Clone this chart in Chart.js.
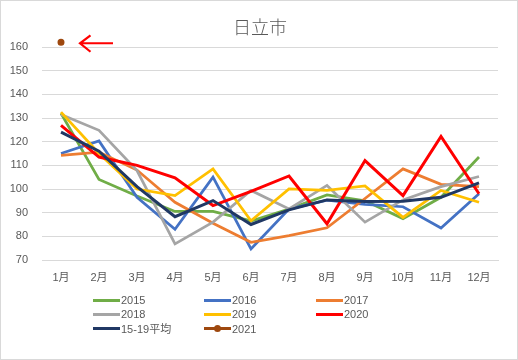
<!DOCTYPE html>
<html><head><meta charset="utf-8">
<script src="https://cdn.jsdelivr.net/npm/chart.js@4/dist/chart.umd.min.js"></script>
<style>
html,body{margin:0;padding:0;background:#fff;}
#wrap{position:relative;width:518px;height:360px;box-sizing:border-box;border:1px solid #d9d9d9;background:#fff;overflow:hidden;}
#c{position:absolute;left:0;top:0;}
#title{position:absolute;left:0;width:518px;top:13px;text-align:center;font:18px "Noto Sans CJK JP",sans-serif;font-weight:300;color:#595959;line-height:24px;}
#legend{position:absolute;left:0;top:0;width:518px;height:360px;pointer-events:none;}
.li{position:absolute;font:11px "Liberation Sans","Noto Sans CJK JP",sans-serif;color:#595959;line-height:14px;white-space:nowrap;}
.sw{position:absolute;height:3px;width:27px;}
.dot{position:absolute;width:7px;height:7px;border-radius:50%;}
</style></head>
<body>
<div id="wrap">
<canvas id="c" width="518" height="360"></canvas>
<div id="title">日立市</div>
<div id="legend"></div>
</div>
<script>
const months = ['1月','2月','3月','4月','5月','6月','7月','8月','9月','10月','11月','12月'];
const seriesNames = ['2015','2016','2017','2018','2019','2020','15-19平均','2021'];
const s2015 = [132, 104, 97, 90.5, 90.5, 86.5, 91.5, 97.5, 95, 87.5, 96.5, 113.5];
const s2016 = [115, 120.3, 96.5, 83, 105, 74.7, 91.5, 95.3, 93.5, 92.5, 83.5, 98];
const s2017 = [114.2, 115.6, 108, 94.4, 85.5, 77.5, 80.3, 83.6, 96, 108.5, 102, 101];
const s2018 = [131.5, 124.8, 107.8, 76.8, 86, 99.4, 91.6, 101.5, 86, 95.4, 101, 105.3];
const s2019 = [132.5, 115, 100, 97.2, 108.5, 86.6, 100, 99.4, 101.3, 88, 99.4, 94.4];
const s2020 = [126.9, 113.5, 110, 104.7, 93, 99, 105.5, 85.3, 112, 97.2, 122.2, 98];
const avg1519 = [124, 116, 101, 88.3, 95.1, 85, 91.2, 95.4, 94.7, 94.8, 96.5, 102.6];
const s2021 = [162, null, null, null, null, null, null, null, null, null, null, null];
const yTicks = [70, 80, 90, 100, 110, 120, 130, 140, 150, 160];

const colors = ['#70AD47','#4472C4','#ED7D31','#A5A5A5','#FFC000','#FF0000','#203864','#9E480E'];
const values = [s2015, s2016, s2017, s2018, s2019, s2020, avg1519, s2021];

const datasets = values.map((v, i) => ({
  label: seriesNames[i],
  data: v,
  borderColor: colors[i],
  backgroundColor: colors[i],
  borderWidth: i === 5 || i === 6 ? 3 : 2.75,
  pointRadius: i === 7 ? 1.5 : 0,
  pointBorderWidth: 4,
  pointHoverRadius: i === 7 ? 1.5 : 0,
  tension: 0,
  fill: false,
  clip: i === 7 ? false : undefined,
  order: 10 - i
}));

const arrowPlugin = {
  id: 'arrow',
  afterDatasetsDraw(chart) {
    const meta = chart.getDatasetMeta(7);
    const p = meta.data[0];
    if (!p) return;
    const ctx = chart.ctx;
    const x0 = p.x + 19, y0 = p.y + 1;
    ctx.save();
    ctx.strokeStyle = '#FF0000';
    ctx.lineWidth = 2.2;
    ctx.lineCap = 'butt';
    ctx.beginPath();
    ctx.moveTo(x0, y0); ctx.lineTo(x0 + 33, y0);
    ctx.moveTo(x0 + 10.5, y0 - 8); ctx.lineTo(x0, y0); ctx.lineTo(x0 + 10.5, y0 + 8.5);
    ctx.stroke();
    ctx.restore();
  }
};

const tickFont = {family: '"Liberation Sans","Noto Sans CJK JP",sans-serif', size: 11};
new Chart(document.getElementById('c'), {
  type: 'line',
  data: {labels: months, datasets},
  options: {
    responsive: false,
    animation: false,
    layout: {padding: {left: 0, right: 21, top: 46, bottom: 0}},
    plugins: {legend: {display: false}, title: {display: false}, tooltip: {enabled: false}},
    scales: {
      x: {
        offset: true,
        grid: {display: false, drawTicks: false},
        border: {display: true, color: '#D9D9D9', width: 1},
        ticks: {color: '#595959', font: tickFont, padding: 11, maxRotation: 0, autoSkip: false},
        afterFit(s) { s.height = 101; }
      },
      y: {
        min: 70, max: 160,
        afterBuildTicks(s) { s.ticks = yTicks.map(v => ({value: v})); },
        grid: {color: '#D9D9D9', lineWidth: 1, drawTicks: false},
        border: {display: false},
        ticks: {color: '#595959', font: tickFont, padding: 14},
        afterFit(s) { s.width = 41; }
      }
    }
  },
  plugins: [arrowPlugin]
});

// HTML legend in a 3-column grid
const legend = document.getElementById('legend');
const colX = [92, 203, 315];
const rowY = [299, 313, 327.5];
seriesNames.forEach((name, i) => {
  const cx = colX[i % 3], cy = rowY[Math.floor(i / 3)];
  const sw = document.createElement('div');
  sw.className = 'sw';
  sw.style.left = cx + 'px'; sw.style.top = (cy - 1.5) + 'px'; sw.style.background = colors[i];
  legend.appendChild(sw);
  if (i === 7) {
    const d = document.createElement('div');
    d.className = 'dot';
    d.style.left = (cx + 10) + 'px'; d.style.top = (cy - 3.5) + 'px'; d.style.background = colors[i];
    legend.appendChild(d);
  }
  const t = document.createElement('div');
  t.className = 'li';
  t.textContent = name;
  t.style.left = (cx + 28) + 'px'; t.style.top = (cy - 7) + 'px';
  legend.appendChild(t);
});
</script>
</body></html>
